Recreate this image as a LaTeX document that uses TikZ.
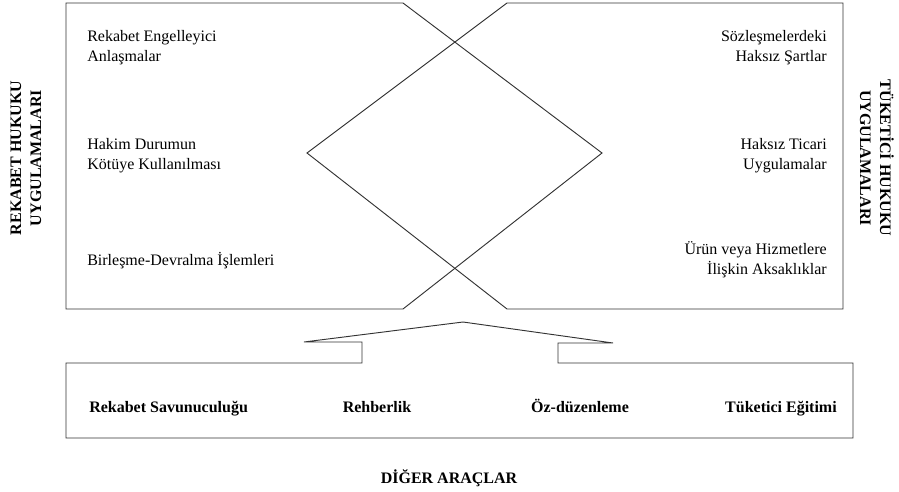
\documentclass[tikz,border=0pt]{standalone}
\usepackage{fontspec}
\setmainfont{Liberation Serif}
\begin{document}
\begin{tikzpicture}[x=0.75pt,y=-0.75pt,
  shapeline/.style={draw=black!80,line width=0.7pt,line join=miter},
  item/.style={font=\fontsize{12pt}{15pt}\selectfont,inner sep=0pt},
  litem/.style={item,anchor=west,align=left},
  ritem/.style={item,anchor=east,align=right},
  tool/.style={item,font=\fontsize{12pt}{15pt}\selectfont\bfseries},
  side/.style={item,font=\fontsize{12pt}{15pt}\selectfont\bfseries,align=center}]
\useasboundingbox (0,0) rectangle (899,492);
% top shapes
\draw[shapeline] (66,3) -- (403,3) -- (602,153) -- (403,309) -- (66,309) -- cycle;
\draw[shapeline] (843,3) -- (507,3) -- (307,153) -- (507,309) -- (843,309) -- cycle;
% bottom box with callout
\draw[shapeline] (66,363) -- (362,363) -- (362,342) -- (304,342) -- (463,322) -- (613,343) -- (558,343) -- (558,363) -- (853,363) -- (853,438) -- (66,438) -- cycle;
% left texts
\node[litem] (l1) at (87,48) {Rekabet Engelleyici\\Anlaşmalar};
\node[litem] (l2) at (87,156) {Hakim Durumun\\Kötüye Kullanılması};
\node[litem] (l3) at (87,261) {Birleşme-Devralma İşlemleri};
% right texts
\node[ritem] (r1) at (827,48) {Sözleşmelerdeki\\Haksız Şartlar};
\node[ritem] (r2) at (827,156) {Haksız Ticari\\Uygulamalar};
\node[ritem] (r3) at (827,260) {Ürün veya Hizmetlere\\İlişkin Aksaklıklar};
% bottom tools
\node[tool,anchor=base west] (t1) at (89,412) {Rekabet Savunuculuğu};
\node[tool,anchor=base] (t2) at (377,412) {Rehberlik};
\node[tool,anchor=base] (t3) at (580,412) {Öz-düzenleme};
\node[tool,anchor=base east] (t4) at (837,412) {Tüketici Eğitimi};
\node[tool,anchor=base] (other) at (449,483) {DİĞER ARAÇLAR};
% side labels
\node[side,rotate=90] (sl) at (26,158) {REKABET HUKUKU\\UYGULAMALARI};
\node[side,rotate=-90] (sr) at (877,158) {TÜKETİCİ HUKUKU\\UYGULAMALARI};
\end{tikzpicture}
\end{document}
